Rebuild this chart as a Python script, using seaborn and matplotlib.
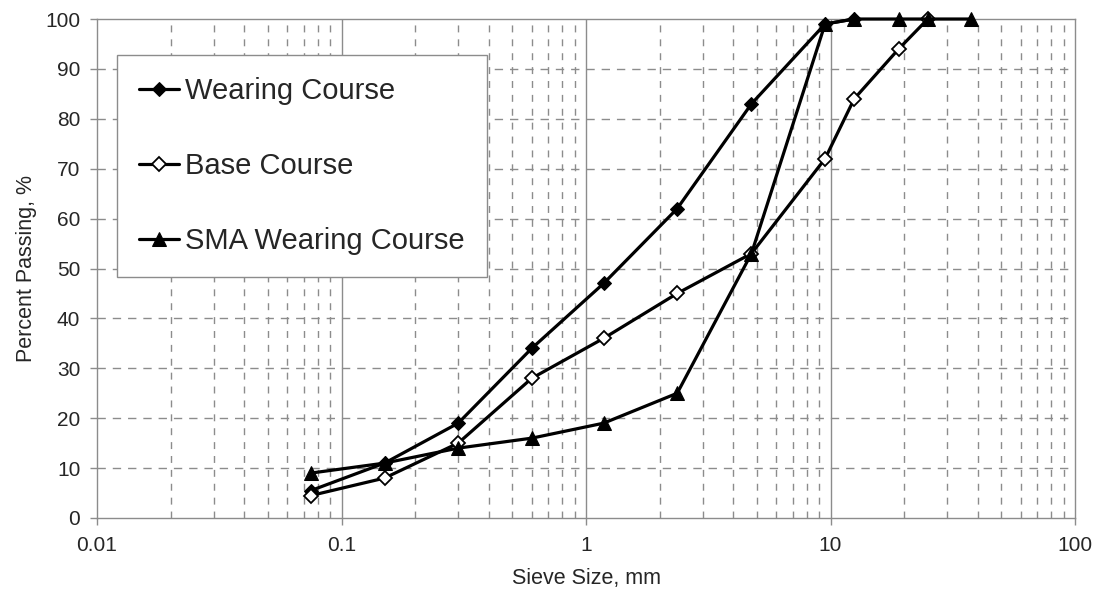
import numpy as np
import pandas as pd
import matplotlib
matplotlib.use("Agg")
import matplotlib.pyplot as plt
from matplotlib.ticker import LogLocator, NullFormatter
import seaborn as sns

sieve_mm = [0.075, 0.15, 0.3, 0.6, 1.18, 2.36, 4.75, 9.5, 12.5, 19, 25, 37.5]
wearing = [5.5, 11, 19, 34, 47, 62, 83, 99, 100, None, None, None]
base = [4.5, 8, 15, 28, 36, 45, 53, 72, 84, 94, 100, None]
sma = [9, 11, 14, 16, 19, 25, 53, 99, 100, 100, 100, 100]

series_names = ["Wearing Course", "Base Course", "SMA Wearing Course"]
x_ticks = [0.01, 0.1, 1, 10, 100]
x_tick_labels = ["0.01", "0.1", "1", "10", "100"]

sns.set_theme(style="white")
plt.rcParams["font.family"] = ["Liberation Sans", "DejaVu Sans"]

fig = plt.figure(figsize=(11.01, 5.98), dpi=100)
ax = fig.add_axes([0.0881, 0.1338, 0.8883, 0.8344])

grid_c = "#8c8c8c"
styles = [
    dict(marker="D", markerfacecolor="black", markeredgecolor="black", markersize=7),
    dict(marker="D", markerfacecolor="white", markeredgecolor="black", markersize=7, markeredgewidth=1.3),
    dict(marker="^", markerfacecolor="black", markeredgecolor="black", markersize=9.5),
]
data = [wearing, base, sma]
for i in [0, 1, 2]:
    df = pd.DataFrame({"x": sieve_mm, "y": data[i]}).dropna()
    sns.lineplot(data=df, x="x", y="y", ax=ax, color="black", linewidth=2.3,
                 sort=False, label=series_names[i], zorder=3 + i, **styles[i])
for ln in ax.get_lines():
    ln.set_clip_on(False)

ax.set_xscale("log")
ax.set_xlim(0.01, 100)
ax.set_ylim(0, 100)
ax.set_yticks(np.arange(0, 101, 10))
ax.set_xticks(x_ticks)
ax.set_xticklabels(x_tick_labels)
ax.xaxis.set_minor_locator(LogLocator(base=10, subs=np.arange(2, 10)))
ax.xaxis.set_minor_formatter(NullFormatter())

ax.grid(False)
for xv in [0.1, 1, 10]:
    ax.axvline(xv, color=grid_c, lw=1.0, zorder=1)
for dec in [0.01, 0.1, 1, 10]:
    for s in range(2, 10):
        ax.axvline(dec * s, color=grid_c, lw=1.0, ls=(0, (5, 5)), zorder=1)
for yv in range(10, 100, 10):
    ax.axhline(yv, color=grid_c, lw=1.0, ls=(0, (6, 5)), zorder=1)

for sp in ax.spines.values():
    sp.set_color(grid_c)
    sp.set_linewidth(1.0)

ax.tick_params(axis="y", which="major", direction="out", length=5, width=1, color=grid_c,
               labelsize=15, left=True, pad=7)
ax.tick_params(axis="x", which="major", direction="out", length=5, width=1, color=grid_c,
               labelsize=15, bottom=True, pad=8)
ax.tick_params(axis="x", which="minor", bottom=False)

ax.set_xlabel("Sieve Size, mm", fontsize=15.5, labelpad=9)
ax.set_ylabel("Percent Passing, %", fontsize=15.5, labelpad=6)

handles, labels = ax.get_legend_handles_labels()
hl = dict(zip(labels, handles))
leg = ax.legend([hl[n] for n in series_names], series_names, loc="upper left",
                bbox_to_anchor=(0.0204, 0.928), borderaxespad=0, fontsize=21,
                frameon=True, fancybox=False, edgecolor=grid_c, framealpha=1,
                handlelength=1.35, handletextpad=0.2, labelspacing=1.6,
                borderpad=0.77)
leg.get_frame().set_linewidth(1.0)
leg.set_zorder(10)

fig.savefig("out.png", dpi=100)
